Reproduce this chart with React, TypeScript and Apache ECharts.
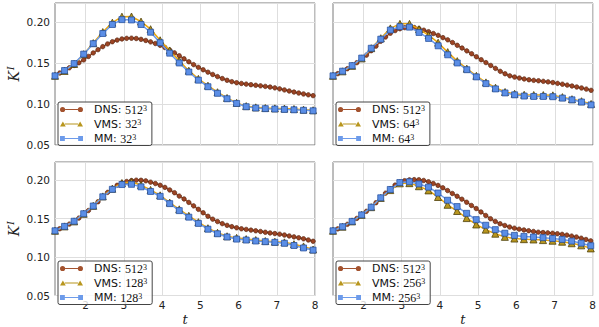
import React, { useEffect, useRef } from 'react';
import * as echarts from 'echarts';

// sample times
const tDNS = [1.2, 1.325, 1.45, 1.575, 1.7, 1.825, 1.95, 2.075, 2.2, 2.325, 2.45, 2.575, 2.7, 2.825, 2.95, 3.075, 3.2, 3.325, 3.45, 3.575, 3.7, 3.825, 3.95, 4.075, 4.2, 4.325, 4.45, 4.575, 4.7, 4.825, 4.95, 5.075, 5.2, 5.325, 5.45, 5.575, 5.7, 5.825, 5.95, 6.075, 6.2, 6.325, 6.45, 6.575, 6.7, 6.825, 6.95, 7.075, 7.2, 7.325, 7.45, 7.575, 7.7, 7.825, 7.95];
const tLES = [1.2, 1.45, 1.7, 1.95, 2.2, 2.45, 2.7, 2.95, 3.2, 3.45, 3.7, 3.95, 4.2, 4.45, 4.7, 4.95, 5.2, 5.45, 5.7, 5.95, 6.2, 6.45, 6.7, 6.95, 7.2, 7.45, 7.7, 7.95];

// top-left: 32^3
const dns32 = [0.1345, 0.138, 0.1413, 0.1443, 0.1472, 0.1505, 0.154, 0.1582, 0.1625, 0.1665, 0.1702, 0.1735, 0.1762, 0.1782, 0.1796, 0.1803, 0.1805, 0.1801, 0.1791, 0.1777, 0.176, 0.174, 0.1718, 0.1691, 0.166, 0.1626, 0.159, 0.1553, 0.1517, 0.1482, 0.1449, 0.1419, 0.139, 0.1362, 0.1336, 0.1312, 0.1291, 0.1274, 0.1261, 0.1252, 0.1244, 0.1237, 0.123, 0.1223, 0.1216, 0.1208, 0.1198, 0.1186, 0.1173, 0.116, 0.1147, 0.1135, 0.1124, 0.1113, 0.1103];
const vms32 = [0.1345, 0.1405, 0.149, 0.161, 0.1745, 0.188, 0.1995, 0.2068, 0.207, 0.2008, 0.1915, 0.178, 0.1655, 0.153, 0.1408, 0.1308, 0.1225, 0.1145, 0.1075, 0.1015, 0.0975, 0.096, 0.0952, 0.0948, 0.0945, 0.094, 0.0932, 0.0925];
const mm32 = [0.1345, 0.141, 0.1495, 0.161, 0.1738, 0.1862, 0.1972, 0.2032, 0.2028, 0.1972, 0.1878, 0.175, 0.1622, 0.1502, 0.1392, 0.1292, 0.1212, 0.1132, 0.1065, 0.1008, 0.0968, 0.0952, 0.0944, 0.094, 0.0935, 0.093, 0.0924, 0.0918];

// top-right: 64^3
const dns64 = [0.1345, 0.1372, 0.14, 0.1432, 0.1467, 0.1506, 0.155, 0.1598, 0.1652, 0.1708, 0.1768, 0.182, 0.1866, 0.1898, 0.192, 0.1934, 0.194, 0.1935, 0.1922, 0.1903, 0.1884, 0.1862, 0.184, 0.1812, 0.1785, 0.1752, 0.1718, 0.1685, 0.165, 0.1615, 0.1578, 0.1542, 0.1507, 0.1472, 0.1436, 0.14, 0.137, 0.1345, 0.133, 0.1318, 0.1307, 0.1297, 0.129, 0.1285, 0.1278, 0.1271, 0.1263, 0.1253, 0.1243, 0.1232, 0.1221, 0.1209, 0.1197, 0.1183, 0.1168];
const vms64 = [0.1345, 0.14, 0.1467, 0.1558, 0.1683, 0.1805, 0.1925, 0.198, 0.198, 0.1915, 0.1842, 0.175, 0.1635, 0.1525, 0.1433, 0.1345, 0.1265, 0.12, 0.1148, 0.1126, 0.1114, 0.1111, 0.111, 0.1107, 0.1085, 0.106, 0.1035, 0.1002];
const mm64 = [0.1345, 0.1402, 0.147, 0.1562, 0.1682, 0.1793, 0.1905, 0.1946, 0.194, 0.1875, 0.1802, 0.1712, 0.1602, 0.1502, 0.142, 0.1332, 0.125, 0.1185, 0.1136, 0.1113, 0.1098, 0.1093, 0.1093, 0.109, 0.1073, 0.1052, 0.1025, 0.099];

// bottom-left: 128^3
const dns128 = [0.1341, 0.1368, 0.1398, 0.1428, 0.1462, 0.1506, 0.1553, 0.1604, 0.1658, 0.1718, 0.178, 0.184, 0.1892, 0.1932, 0.1961, 0.1982, 0.1994, 0.1999, 0.1998, 0.199, 0.1973, 0.1955, 0.1933, 0.1905, 0.1872, 0.1836, 0.1792, 0.1755, 0.171, 0.1665, 0.162, 0.1575, 0.153, 0.1492, 0.1461, 0.1434, 0.1412, 0.1395, 0.138, 0.1367, 0.1359, 0.135, 0.1341, 0.1332, 0.1322, 0.1313, 0.1305, 0.1297, 0.1286, 0.1274, 0.1262, 0.125, 0.1237, 0.1222, 0.1205];
const vms128 = [0.1341, 0.1398, 0.1463, 0.1562, 0.1665, 0.1788, 0.1888, 0.1962, 0.1975, 0.1935, 0.1872, 0.1802, 0.1708, 0.162, 0.1536, 0.1453, 0.1375, 0.1315, 0.127, 0.1249, 0.1233, 0.1221, 0.1208, 0.1199, 0.1191, 0.1167, 0.1138, 0.1098];
const mm128 = [0.1341, 0.1398, 0.1465, 0.1563, 0.1663, 0.1783, 0.188, 0.1942, 0.1945, 0.1912, 0.1852, 0.1789, 0.1694, 0.1603, 0.1518, 0.1437, 0.1362, 0.1302, 0.1261, 0.1233, 0.1221, 0.1208, 0.1199, 0.1191, 0.1179, 0.115, 0.1118, 0.109];

// bottom-right: 256^3
const dns256 = [0.1341, 0.1366, 0.1392, 0.1425, 0.1462, 0.1502, 0.1545, 0.1594, 0.1648, 0.1706, 0.1768, 0.183, 0.1886, 0.1935, 0.197, 0.1992, 0.2003, 0.2006, 0.2004, 0.1995, 0.1978, 0.1955, 0.1931, 0.19, 0.1864, 0.1826, 0.179, 0.1752, 0.1712, 0.167, 0.163, 0.1586, 0.154, 0.1498, 0.1462, 0.1432, 0.141, 0.139, 0.1375, 0.1362, 0.1352, 0.1342, 0.1332, 0.1323, 0.1318, 0.1314, 0.1309, 0.1303, 0.1295, 0.1285, 0.1272, 0.126, 0.1245, 0.1228, 0.121];
const vms256 = [0.1341, 0.1394, 0.1463, 0.1548, 0.1648, 0.1768, 0.187, 0.1958, 0.196, 0.192, 0.1866, 0.178, 0.1679, 0.1598, 0.1506, 0.1423, 0.1356, 0.1303, 0.1262, 0.124, 0.1232, 0.1228, 0.122, 0.1212, 0.1199, 0.1179, 0.1152, 0.1112];
const mm256 = [0.1341, 0.1394, 0.1463, 0.1548, 0.1648, 0.177, 0.1878, 0.1968, 0.1978, 0.195, 0.1908, 0.1832, 0.1738, 0.1656, 0.1568, 0.1486, 0.1413, 0.1356, 0.131, 0.1281, 0.1268, 0.126, 0.1252, 0.1241, 0.1229, 0.1207, 0.118, 0.1147];

const resolutions = ['32', '64', '128', '256'];
const dnsRes = '512';
const xTicks = [2, 3, 4, 5, 6, 7, 8];

const C = {
  dns: { line: '#a3522e', fill: '#9c4424', edge: '#4a1e0c' },
  vms: { line: '#eba70e', fill: '#b8961e', edge: '#4e400a' },
  mm: { line: '#6d9bea', fill: '#5b8ee6', edge: '#1f4a9a' },
};

const ICON_DNS = 'path://M0.4,4 A2.6,2.6 0 1 1 5.6,4 A2.6,2.6 0 1 1 0.4,4 Z M5.6,3.4 L18.4,3.4 L18.4,4.6 L5.6,4.6 Z M18.4,4 A2.6,2.6 0 1 1 23.6,4 A2.6,2.6 0 1 1 18.4,4 Z';
const ICON_VMS = 'path://M0,6.6 L3,1.4 L6,6.6 Z M5,3.4 L19,3.4 L19,4.6 L5,4.6 Z M18,6.6 L21,1.4 L24,6.6 Z';
const ICON_MM = 'path://M0.6,1.6 L5.4,1.6 L5.4,6.4 L0.6,6.4 Z M5.4,3.4 L18.6,3.4 L18.6,4.6 L5.4,4.6 Z M18.6,1.6 L23.4,1.6 L23.4,6.4 L18.6,6.4 Z';

export default function App() {
  const ref = useRef<HTMLDivElement>(null);
  useEffect(() => {
    if (!ref.current) return;
    const chart = echarts.init(ref.current, undefined, { renderer: 'svg' });
    const panels = [
      { left: 55, top: 3, dns: dns32, vms: vms32, mm: mm32, xl: false, yl: true },
      { left: 333, top: 3, dns: dns64, vms: vms64, mm: mm64, xl: false, yl: false },
      { left: 55, top: 162, dns: dns128, vms: vms128, mm: mm128, xl: true, yl: true },
      { left: 333, top: 162, dns: dns256, vms: vms256, mm: mm256, xl: true, yl: false },
    ];
    const grid: any[] = [];
    const xAxis: any[] = [];
    const yAxis: any[] = [];
    const series: any[] = [];
    const legend: any[] = [];
    const zip = (t: number[], v: number[]) => v.map((y, i) => [t[i], y]);
    const labelMap: Record<string, string> = {};
    panels.forEach((p, i) => {
      const r = resolutions[i];
      grid.push({ left: p.left, top: p.top, width: 260, height: 142, show: true, borderColor: '#7a7a7a', borderWidth: 1, backgroundColor: 'transparent' });
      xAxis.push({
        type: 'value', gridIndex: i, min: 1.2, max: 8,
        axisLine: { show: false }, axisTick: { show: false, customValues: xTicks },
        axisLabel: { show: p.xl, customValues: xTicks, margin: 4, fontFamily: 'DejaVu Sans', fontSize: 10.5, color: '#222', lineHeight: 10 },
        splitLine: { show: true, lineStyle: { color: '#dedede', width: 1 } },
        name: p.xl ? 't' : '', nameLocation: 'middle', nameGap: 18,
        nameTextStyle: { fontFamily: 'DejaVu Serif', fontStyle: 'italic', fontSize: 13, color: '#222', lineHeight: 12 },
      });
      yAxis.push({
        type: 'value', gridIndex: i, min: 0.05, max: 0.2235, interval: 0.05,
        axisLine: { show: false }, axisTick: { show: false },
        axisLabel: { show: p.yl, showMaxLabel: false, margin: 5, fontFamily: 'DejaVu Sans', fontSize: 10.5, color: '#222', formatter: (v: number) => v.toFixed(2) },
        splitLine: { show: true, lineStyle: { color: '#dedede', width: 1 } },
        name: p.yl ? '{k|K}{s|I}' : '', nameLocation: 'middle', nameGap: 33, nameRotate: 90,
        nameTextStyle: {
          color: '#222',
          rich: {
            k: { fontFamily: 'DejaVu Serif', fontStyle: 'italic', fontSize: 14, lineHeight: 16, color: '#222' },
            s: { fontFamily: 'DejaVu Serif', fontStyle: 'italic', fontSize: 9, lineHeight: 9, verticalAlign: 'top', color: '#222', padding: [0, 0, 0, 1] },
          },
        },
      });
      const nD = 'DNS-' + r, nV = 'VMS-' + r, nM = 'MM-' + r;
      labelMap[nD] = '{lab|DNS: }{num|' + dnsRes + '}{sup|3}';
      labelMap[nV] = '{lab|VMS: }{num|' + r + '}{sup|3}';
      labelMap[nM] = '{lab|MM: }{num|' + r + '}{sup|3}';
      const common = { type: 'line', xAxisIndex: i, yAxisIndex: i, showAllSymbol: true, emphasis: { disabled: true }, clip: true };
      series.push({ ...common, name: nD, data: zip(tDNS, p.dns), symbol: 'circle', symbolSize: 4.5, lineStyle: { color: C.dns.line, width: 1.5 }, itemStyle: { color: C.dns.fill, borderColor: C.dns.edge, borderWidth: 0.6 }, z: 2 });
      series.push({ ...common, name: nV, data: zip(tLES, p.vms), symbol: 'triangle', symbolSize: 7, lineStyle: { color: C.vms.line, width: 1.5 }, itemStyle: { color: C.vms.fill, borderColor: C.vms.edge, borderWidth: 0.8 }, z: 3 });
      series.push({ ...common, name: nM, data: zip(tLES, p.mm), symbol: 'rect', symbolSize: 6, lineStyle: { color: C.mm.line, width: 1.5 }, itemStyle: { color: C.mm.fill, borderColor: C.mm.edge, borderWidth: 0.7 }, z: 4 });
      legend.push({
        orient: 'vertical', left: p.left + 3, top: p.top + 99,
        data: [
          { name: nD, icon: ICON_DNS, itemStyle: { color: C.dns.line, borderWidth: 0 } },
          { name: nV, icon: ICON_VMS, itemStyle: { color: C.vms.fill, borderWidth: 0 } },
          { name: nM, icon: ICON_MM, itemStyle: { color: C.mm.line, borderWidth: 0 } },
        ],
        itemWidth: 23, itemHeight: 8, itemGap: 2.5, padding: [1.5, 5, 1, 2],
        backgroundColor: 'rgba(255,255,255,0.8)', borderColor: '#444', borderWidth: 1, borderRadius: 2,
        selectedMode: false,
        formatter: (name: string) => labelMap[name] || name,
        textStyle: {
          rich: {
            lab: { fontFamily: 'DejaVu Sans', fontSize: 11, color: '#111', padding: [0, 0, 0, 6], lineHeight: 11 },
            num: { fontFamily: 'Liberation Serif', fontSize: 12, color: '#111', lineHeight: 11 },
            sup: { fontFamily: 'Liberation Serif', fontSize: 8, color: '#111', lineHeight: 7, verticalAlign: 'top' },
          },
        },
      });
    });
    chart.setOption({ animation: false, grid, xAxis, yAxis, series, legend, backgroundColor: '#fff' });
    return () => chart.dispose();
  }, []);
  return <div ref={ref} style={{ position: 'fixed', left: 0, top: 0, width: 599, height: 327 }} />;
}
